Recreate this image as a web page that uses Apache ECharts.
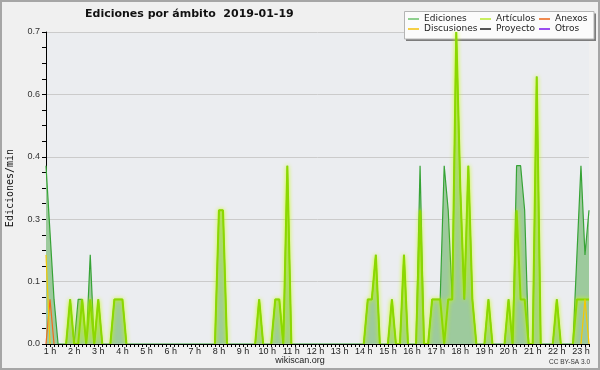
<!DOCTYPE html>
<html><head><meta charset="utf-8">
<script src="https://cdn.jsdelivr.net/npm/echarts@6/dist/echarts.min.js"></script>
<style>html,body{margin:0;padding:0;background:#f0f0f0}#c{width:600px;height:370px}</style>
</head><body><div id="c"></div>
<script>
// 10-minute samples, first sample at 0:50
const startMinutes = 50;
const stepMinutes = 10;
const hourLabels = ["1 h","2 h","3 h","4 h","5 h","6 h","7 h","8 h","9 h","10 h","11 h","12 h",
  "13 h","14 h","15 h","16 h","17 h","18 h","19 h","20 h","21 h","22 h","23 h"];
const yTicks = [0, 0.14, 0.28, 0.42, 0.56, 0.7];

const ediciones = [
  0.4,0.25,0.1,0,0,0,0.1,0,0.1,0.1,0,0.2,
  0,0.1,0,0,0,0.1,0.1,0.1,0,0,0,0,
  0,0,0,0,0,0,0,0,0,0,0,0,
  0,0,0,0,0,0,0,0.3,0.3,0,0,0,
  0,0,0,0,0,0.1,0,0,0,0.1,0.1,0,
  0.4,0,0,0,0,0,0,0,0,0,0,0,
  0,0,0,0,0,0,0,0,0.1,0.1,0.2,0,
  0,0,0.1,0,0,0.2,0,0,0,0.4,0,0,
  0.1,0.1,0.1,0.4,0.3,0.1,0.7,0.35,0.1,0.4,0.1,0,
  0,0,0.1,0,0,0,0,0.1,0,0.4,0.4,0.3,
  0,0,0.6,0,0,0,0,0.1,0,0,0,0,
  0.2,0.4,0.2,0.3
];
const articulos = [
  0,0,0,0,0,0,0.1,0,0,0.1,0,0.1,
  0,0.1,0,0,0,0.1,0.1,0.1,0,0,0,0,
  0,0,0,0,0,0,0,0,0,0,0,0,
  0,0,0,0,0,0,0,0.3,0.3,0,0,0,
  0,0,0,0,0,0.1,0,0,0,0.1,0.1,0,
  0.4,0,0,0,0,0,0,0,0,0,0,0,
  0,0,0,0,0,0,0,0,0.1,0.1,0.2,0,
  0,0,0.1,0,0,0.2,0,0,0,0.3,0,0,
  0.1,0.1,0.1,0,0.1,0.1,0.7,0.35,0.1,0.4,0.1,0,
  0,0,0.1,0,0,0,0,0.1,0,0.3,0.1,0.1,
  0,0,0.6,0,0,0,0,0.1,0,0,0,0,
  0.1,0.1,0.1,0.1
];
const anexos = [0,0.1,0,0];            // rest are zero
const discusiones = [0.2,0,0];         // start of day
const discusionesEnd = [0,0.1,0];      // indices 133..135
const proyecto = [];                   // all zero
const otros = [];                      // all zero

const N = ediciones.length;
function full(head, tailStart, tail) {
  const a = new Array(N).fill(0);
  head.forEach((v, i) => a[i] = v);
  if (tail) tail.forEach((v, i) => a[tailStart + i] = v);
  return a;
}
// hide zero runs (they lie under the axis line) so line glow does not show along the axis
function gap(arr) {
  return arr.map((v, i) => (v === 0 && (arr[i-1] || 0) === 0 && (arr[i+1] || 0) === 0) ? null : v);
}
const categories = ediciones.map((_, i) => {
  const m = startMinutes + i * stepMinutes;
  return Math.floor(m / 60) + ':' + String(m % 60).padStart(2, '0');
});
const isHour = i => (startMinutes + i * stepMinutes) % 60 === 0;

const chart = echarts.init(document.getElementById('c'), null, {renderer: 'canvas'});
const legendText = {fontFamily: 'DejaVu Sans', fontSize: 9, color: '#222', lineHeight: 10};
const legendBase = {orient: 'vertical', top: 14, icon: 'rect', itemWidth: 11, itemHeight: 2,
  itemGap: 0, padding: 0, selectedMode: false, textStyle: legendText, z: 10};

chart.setOption({
  animation: false,
  backgroundColor: '#f0f0f0',
  title: {text: 'Ediciones por ámbito  2019-01-19', left: 85, top: 9, padding: 0,
    textStyle: {fontFamily: 'DejaVu Sans', fontWeight: 'bold', fontSize: 11, color: '#111'}},
  grid: {left: 46, right: 11, top: 32, bottom: 26, show: true, backgroundColor: '#ebedf0', borderWidth: 0, z: 0,
    containLabel: false, outerBoundsMode: 'none'},
  legend: [
    Object.assign({}, legendBase, {left: 408, data: [
      {name: 'Ediciones', itemStyle: {color: '#8fd08f'}},
      {name: 'Discusiones', itemStyle: {color: '#f5cf45'}}]}),
    Object.assign({}, legendBase, {left: 480, data: [
      {name: 'Artículos', itemStyle: {color: '#c8ee60'}},
      {name: 'Proyecto', itemStyle: {color: '#555555'}}]}),
    Object.assign({}, legendBase, {left: 539, data: [
      {name: 'Anexos', itemStyle: {color: '#f08a50'}},
      {name: 'Otros', itemStyle: {color: '#9a4ef0'}}]})
  ],
  xAxis: {
    type: 'category', data: categories, boundaryGap: false, z: 5,
    axisLine: {lineStyle: {color: '#000', width: 1}},
    axisTick: {show: true, interval: 0, length: 3, lineStyle: {color: '#000'}},
    axisLabel: {interval: (i) => isHour(i), margin: 3, fontFamily: 'Liberation Sans', fontSize: 9, color: '#222',
      formatter: (v, i) => isHour(i) ? hourLabels[(startMinutes + i * stepMinutes) / 60 - 1] : ''}
  },
  yAxis: {
    type: 'value', min: 0, max: 0.7, interval: 0.14, z: 0,
    name: 'Ediciones/min', nameLocation: 'middle', nameGap: 31, nameRotate: 90,
    nameTextStyle: {fontFamily: 'DejaVu Sans Mono', fontSize: 10, color: '#111'},
    axisLine: {show: true, lineStyle: {color: '#000'}},
    axisTick: {show: true, length: 4, lineStyle: {color: '#000'}},
    minorTick: {show: true, splitNumber: 4, length: 4, lineStyle: {color: '#000'}},
    splitLine: {lineStyle: {color: '#cbcbcb'}},
    axisLabel: {fontFamily: 'Liberation Sans', fontSize: 9, color: '#333', margin: 6,
      formatter: v => v.toFixed(1)}
  },
  graphic: [
    {type: 'rect', z: 1, shape: {x: 406, y: 13.5, width: 190, height: 27.5}, style: {fill: '#7c7c7c'}},
    {type: 'rect', z: 1, shape: {x: 404.5, y: 11.5, width: 189.5, height: 27.5}, style: {fill: '#fbfbfb', stroke: '#b4b4b4', lineWidth: 1}},
    {type: 'text', z: 5, left: 'center', top: 356, style: {text: 'wikiscan.org', font: '9px "Liberation Sans"', fill: '#222'}},
    {type: 'text', z: 5, right: 10, top: 359, style: {text: 'CC BY-SA 3.0', font: '6.5px "Liberation Sans"', fill: '#333'}},
    {type: 'rect', z: 20, shape: {x: 1, y: 1, width: 598, height: 368}, style: {fill: 'none', stroke: '#a6a6a6', lineWidth: 2}}
  ],
  series: [
    {name: 'Ediciones', type: 'line', data: ediciones, showSymbol: false, z: 2, color: '#8fd08f',
      lineStyle: {color: '#36a336', width: 1.2}, areaStyle: {color: '#9dca9d', opacity: 1}},
    {name: 'Artículos', type: 'line', data: gap(articulos), showSymbol: false, z: 3, color: '#c8ee60',
      lineStyle: {color: '#8cd800', width: 2, shadowColor: 'rgba(200,255,0,1)', shadowBlur: 4}},
    {name: 'Anexos', type: 'line', data: gap(full(anexos)), showSymbol: false, z: 4, color: '#f08a50',
      lineStyle: {color: '#f06a20', width: 1.2}},
    {name: 'Discusiones', type: 'line', data: gap(full(discusiones, 133, discusionesEnd)), showSymbol: false, z: 4, color: '#f5cf45',
      lineStyle: {color: '#f5c800', width: 1.2}},
    {name: 'Proyecto', type: 'line', data: gap(full(proyecto)), showSymbol: false, z: 4, color: '#555555',
      lineStyle: {color: '#555555', width: 1}},
    {name: 'Otros', type: 'line', data: gap(full(otros)), showSymbol: false, z: 4, color: '#9a4ef0',
      lineStyle: {color: '#9a4ef0', width: 1}}
  ]
});
</script></body></html>
